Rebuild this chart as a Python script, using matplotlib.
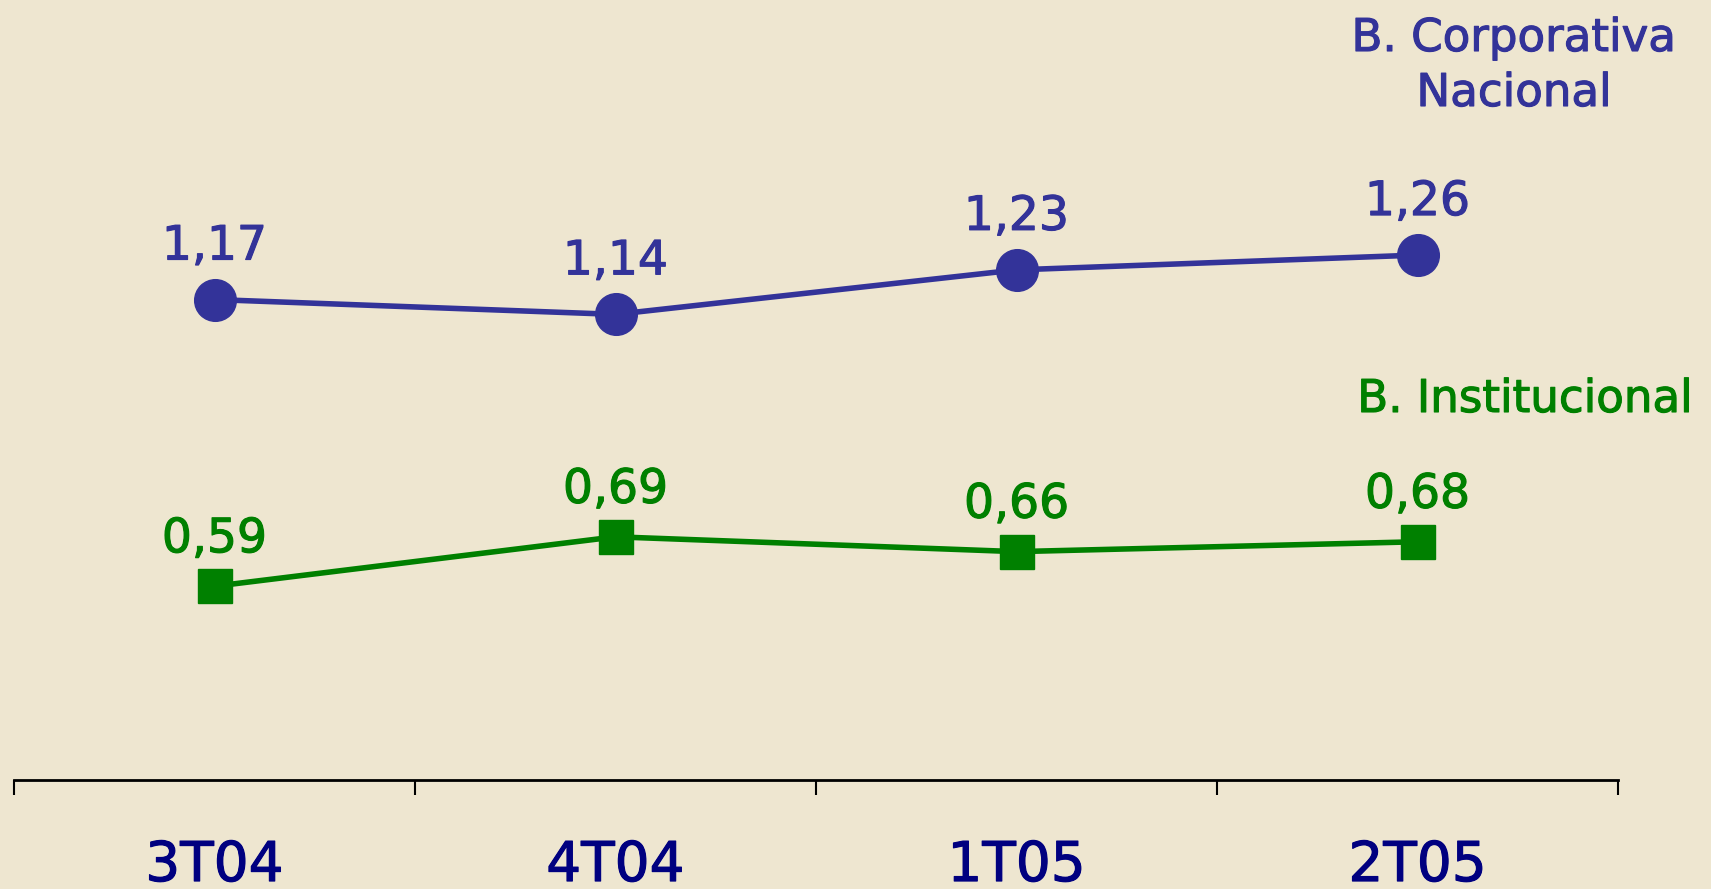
import matplotlib
matplotlib.use('Agg')
import matplotlib.pyplot as plt
import matplotlib.patheffects as pe

# данные
quarters = ['3T04', '4T04', '1T05', '2T05']
corporativa = [1.17, 1.14, 1.23, 1.26]
institucional = [0.59, 0.69, 0.66, 0.68]
corp_labels = ['1,17', '1,14', '1,23', '1,26']
inst_labels = ['0,59', '0,69', '0,66', '0,68']

bg = '#EEE6D0'
blue = '#333399'
green = '#008000'
navy = '#000080'

plt.rcParams['font.family'] = ['DejaVu Sans']


def thick(c):
    # чуть более жирный шрифт
    return [pe.withStroke(linewidth=0.8, foreground=c)]


fig = plt.figure(figsize=(17.11, 8.89), dpi=100, facecolor=bg)
ax = fig.add_axes([14 / 1711, 0.1226, 1604 / 1711, 0.8774])
ax.set_facecolor(bg)

x = list(range(len(quarters)))

ax.plot(x, corporativa, color=blue, lw=4, marker='o', markersize=30, zorder=3)
ax.plot(x, institucional, color=green, lw=4, marker='s', markersize=24, zorder=3)

# подписи значений
for xi, yi, lbl in zip(x, corporativa, corp_labels):
    ax.annotate(lbl, (xi, yi), xytext=(0, 28.8), textcoords='offset points',
                ha='center', va='baseline', color=blue, fontsize=34,
                path_effects=thick(blue))
for xi, yi, lbl in zip(x, institucional, inst_labels):
    ax.annotate(lbl, (xi, yi), xytext=(0, 24.5), textcoords='offset points',
                ha='center', va='baseline', color=green, fontsize=34,
                path_effects=thick(green))

# названия серий
fig.text(1514 / 1711, 1 - 51 / 889, 'B. Corporativa', ha='center', va='baseline',
         color=blue, fontsize=32.5, path_effects=thick(blue))
fig.text(1514 / 1711, 1 - 106 / 889, 'Nacional', ha='center', va='baseline',
         color=blue, fontsize=32.5, path_effects=thick(blue))
fig.text(1525 / 1711, 1 - 412 / 889, 'B. Institucional', ha='center', va='baseline',
         color=green, fontsize=32.5, path_effects=thick(green))

ax.set_xlim(-0.5, len(quarters) - 0.5)
ax.set_ylim(0.198, 1.776)

for s in ['top', 'left', 'right']:
    ax.spines[s].set_visible(False)
ax.spines['bottom'].set_linewidth(2)
ax.spines['bottom'].set_color('black')

ax.set_yticks([])
ax.set_xticks(x)
ax.set_xticklabels(quarters, color=navy, fontsize=39.5)
for t in ax.get_xticklabels():
    t.set_path_effects(thick(navy))
ax.set_xticks([i - 0.5 for i in range(len(quarters) + 1)], minor=True)
ax.tick_params(axis='x', which='major', length=0, pad=42.5)
ax.tick_params(axis='x', which='minor', length=11, width=1.5, color='black')

fig.savefig('out.png', dpi=100, facecolor=bg)
